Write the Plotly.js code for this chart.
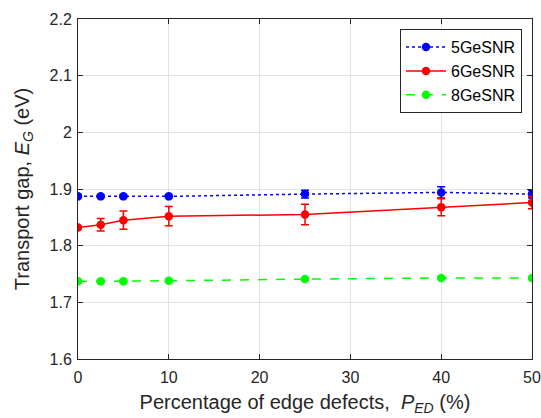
<!DOCTYPE html>
<html>
<head>
<meta charset="utf-8">
<script src="https://cdn.plot.ly/plotly-3.0.1.min.js"></script>
<style>
  html, body { margin: 0; padding: 0; background: #fff; }
  #chart { width: 541px; height: 418px; }
</style>
</head>
<body>
<div id="chart"></div>
<script>
// Percentage of edge defects (%)
const defects = [0, 2.5, 5, 10, 25, 40, 50];

// Transport gap (eV) and error half-widths for each nanoribbon
const gap5 = [1.887, 1.887, 1.887, 1.887, 1.891, 1.894, 1.891];
const err5 = [0.002, 0.002, 0.002, 0.002, 0.007, 0.010, 0.007];

const gap6 = [1.832, 1.837, 1.845, 1.852, 1.855, 1.868, 1.876];
const err6 = [0.002, 0.011, 0.016, 0.017, 0.018, 0.015, 0.011];

const gap8 = [1.737, 1.737, 1.737, 1.738, 1.741, 1.743, 1.743];
const err8 = [0.002, 0.002, 0.002, 0.002, 0.002, 0.002, 0.002];

const names = ['5GeSNR', '6GeSNR', '8GeSNR'];
const colors = ['#0000ff', '#ff0000', '#00ff00'];
const dashes = ['dot', 'solid', 'dash'];

const yTicks = [1.6, 1.7, 1.8, 1.9, 2.0, 2.1, 2.2];
const yTickText = ['1.6', '1.7', '1.8', '1.9', '2', '2.1', '2.2'];
const xTicks = [0, 10, 20, 30, 40, 50];

const series = [[gap5, err5], [gap6, err6], [gap8, err8]];

const traces = series.map(([y, e], i) => ({
  x: defects,
  y: y,
  name: names[i],
  type: 'scatter',
  mode: 'lines+markers',
  line: { color: colors[i], width: 1.5, dash: dashes[i] },
  marker: { color: colors[i], size: 8.5, symbol: 'circle' },
  error_y: { type: 'data', array: e, visible: true, color: colors[i], thickness: 1.5, width: 4 }
}));

const font = 'Liberation Sans, Arial, sans-serif';

const layout = {
  width: 541,
  height: 418,
  margin: { l: 78, r: 9, t: 19, b: 59 },
  paper_bgcolor: '#ffffff',
  plot_bgcolor: '#ffffff',
  font: { family: font, size: 16, color: '#262626' },
  showlegend: true,
  legend: {
    x: 0.978, y: 0.97, xanchor: 'right', yanchor: 'top',
    bgcolor: '#ffffff', bordercolor: '#262626', borderwidth: 1,
    font: { family: font, size: 16, color: '#000000' },
    tracegroupgap: 0,
    itemwidth: 40
  },
  xaxis: {
    range: [0, 50],
    tickvals: xTicks,
    ticks: 'inside', ticklen: 5, tickcolor: '#262626',
    showline: true, linecolor: '#262626', linewidth: 1, mirror: 'ticks',
    showgrid: true, gridcolor: '#e3e3e3', gridwidth: 1,
    zeroline: false,
    ticklabelstandoff: 4,
    tickfont: { family: font, size: 16, color: '#262626' },
    title: {
      text: 'Percentage of edge defects,  <i>P</i><sub><i>ED</i></sub> (%)',
      font: { family: font, size: 20, color: '#262626' },
      standoff: 9
    }
  },
  yaxis: {
    range: [1.6, 2.2],
    tickvals: yTicks,
    ticktext: yTickText,
    ticks: 'inside', ticklen: 5, tickcolor: '#262626',
    showline: true, linecolor: '#262626', linewidth: 1, mirror: 'ticks',
    showgrid: true, gridcolor: '#e3e3e3', gridwidth: 1,
    zeroline: false,
    ticklabelstandoff: 2,
    tickfont: { family: font, size: 16, color: '#262626' },
    title: {
      text: 'Transport gap, <i>E</i><sub><i>G</i></sub> (eV)',
      font: { family: font, size: 20, color: '#262626' },
      standoff: 14
    }
  }
};

Plotly.newPlot('chart', traces, layout, { displayModeBar: false, staticPlot: true });
</script>
</body>
</html>
